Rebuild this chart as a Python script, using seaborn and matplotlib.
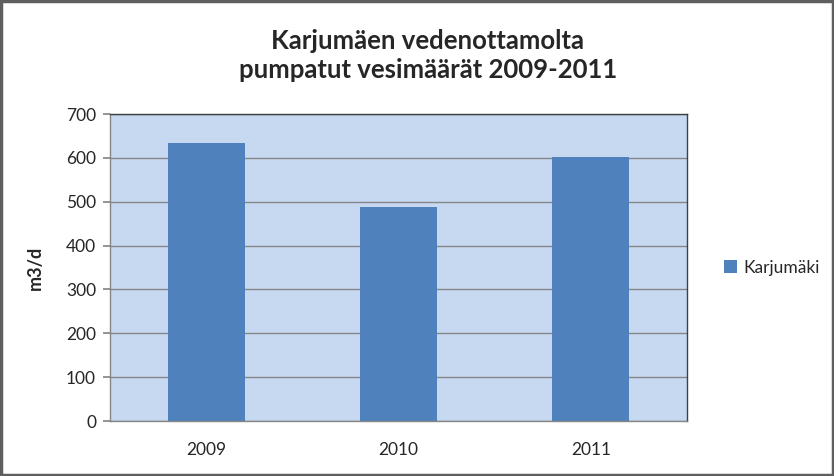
import matplotlib
matplotlib.use("Agg")
import matplotlib.pyplot as plt
import pandas as pd
import seaborn as sns
from matplotlib.patches import Rectangle

years = ["2009", "2010", "2011"]
pumped = [633, 489, 603]
series_name = "Karjumäki"
title = "Karjumäen vedenottamolta\npumpatut vesimäärät 2009-2011"
y_label = "m3/d"

sns.set_theme(style="white")
plt.rcParams["font.family"] = ["Lato", "DejaVu Sans"]

df = pd.DataFrame({"year": years, "value": pumped, "series": series_name})

fig = plt.figure(figsize=(8.34, 4.76), dpi=100)
ax = fig.add_axes([0.1319, 0.1155, 0.6918, 0.645])
ax.set_facecolor("#C6D9F1")

sns.barplot(data=df, x="year", y="value", hue="series", palette=["#4F81BD"],
            width=0.4, ax=ax, saturation=1, legend=True, linewidth=0)

ax.set_ylim(0, 700)
ax.set_xlim(-0.5, 2.5)
ax.set_yticks(range(0, 701, 100))
ax.yaxis.grid(True, color="#868686", linewidth=1)
ax.set_axisbelow(True)
ax.tick_params(axis="y", which="both", left=True, length=5, color="#868686",
               labelsize=12.5, pad=5)
ax.tick_params(axis="x", bottom=False, labelsize=12.5, pad=9)
for side in ["top", "right"]:
    ax.spines[side].set_color("#404040")
    ax.spines[side].set_linewidth(1)
for side in ["left", "bottom"]:
    ax.spines[side].set_color("#868686")
    ax.spines[side].set_linewidth(1)
ax.set_xlabel("")
ax.set_ylabel(y_label, fontsize=13, fontweight="bold", labelpad=16)

leg = ax.legend(loc="center left", bbox_to_anchor=(1.04, 0.5), frameon=False,
                fontsize=12.5, handlelength=0.75, handleheight=0.75,
                handletextpad=0.35, borderaxespad=0.4)

fig.suptitle(title, fontsize=18.5, fontweight="bold", x=0.513, y=0.94,
             linespacing=1.25)

fig.patches.append(Rectangle((0.0015, 0.0025), 0.997, 0.995, transform=fig.transFigure,
                             fill=False, edgecolor="#5f5f5f", linewidth=2.5))

fig.savefig("out.png", dpi=100)
